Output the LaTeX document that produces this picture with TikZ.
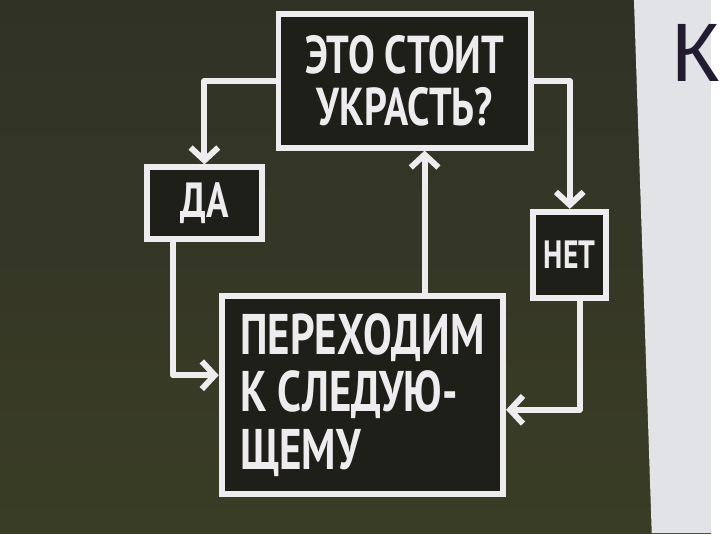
\documentclass[tikz,border=0pt]{standalone}
\usepackage{fontspec}
\newfontfamily\handfont[FakeStretch=0.75]{PT Sans}
\newfontfamily\pagefont{Liberation Sans}
\usetikzlibrary{positioning, arrows.meta}
\definecolor{boardolive}{RGB}{48,50,38}
\definecolor{boardlow}{RGB}{58,61,37}
\definecolor{boxdark}{RGB}{30,31,24}
\definecolor{chalkwhite}{RGB}{238,236,238}
\definecolor{pagegray}{RGB}{226,227,231}
\definecolor{inkdark}{RGB}{35,28,48}

\begin{document}
\begin{tikzpicture}[
    x=1pt, y=-1pt,
    >={Straight Barb[length=13pt, width=28pt]},
    box/.style={draw=chalkwhite, line width=6pt, fill=boxdark,
                text=chalkwhite, align=center, inner sep=0pt},
    arr/.style={->, draw=chalkwhite, line width=6pt, line join=round,
                line cap=round},
  ]
  % Board and page
  \shade[top color=boardolive, bottom color=boardlow] (0,0) rectangle (720,540);
  \fill[pagegray] (642,0) -- (660,540) -- (720,540) -- (720,0) -- cycle;
  \node[anchor=west, inner sep=0pt, text=inkdark,
        font=\pagefont\fontsize{84}{84}\selectfont] (pageletter) at (680,54) {К};

  % Boxes
  \node[box, minimum width=256pt, minimum height=135pt,
        font=\handfont\bfseries\fontsize{54}{52}\selectfont] (steal) at (410,82) {ЭТО СТОИТ\\УКРАСТЬ?};
  \node[box, minimum width=116pt, minimum height=73pt,
        font=\handfont\bfseries\fontsize{50}{50}\selectfont] (yes) at (207,206) {ДА};
  \node[box, minimum width=74pt, minimum height=87pt,
        font=\handfont\bfseries\fontsize{40}{40}\selectfont] (no) at (577,258) {НЕТ};
  \node[box, minimum width=285pt, minimum height=200pt, align=left,
        font=\handfont\bfseries\fontsize{58}{58}\selectfont] (next) at (367,400) {ПЕРЕХОДИМ\\К СЛЕДУЮ-\\ЩЕМУ};

  % Connectors
  \draw[arr] (steal.west) -| (yes.north);
  \draw[arr] (steal.east) -| (no.north);
  \draw[arr] ([xshift=-32pt]yes.south) |- ([yshift=20pt]next.west);
  \draw[arr] ([xshift=10pt]no.south) |- ([yshift=-15pt]next.east);
  \draw[arr] ([xshift=63pt]next.north) -- ([xshift=20pt]steal.south);

\end{tikzpicture}
\end{document}
